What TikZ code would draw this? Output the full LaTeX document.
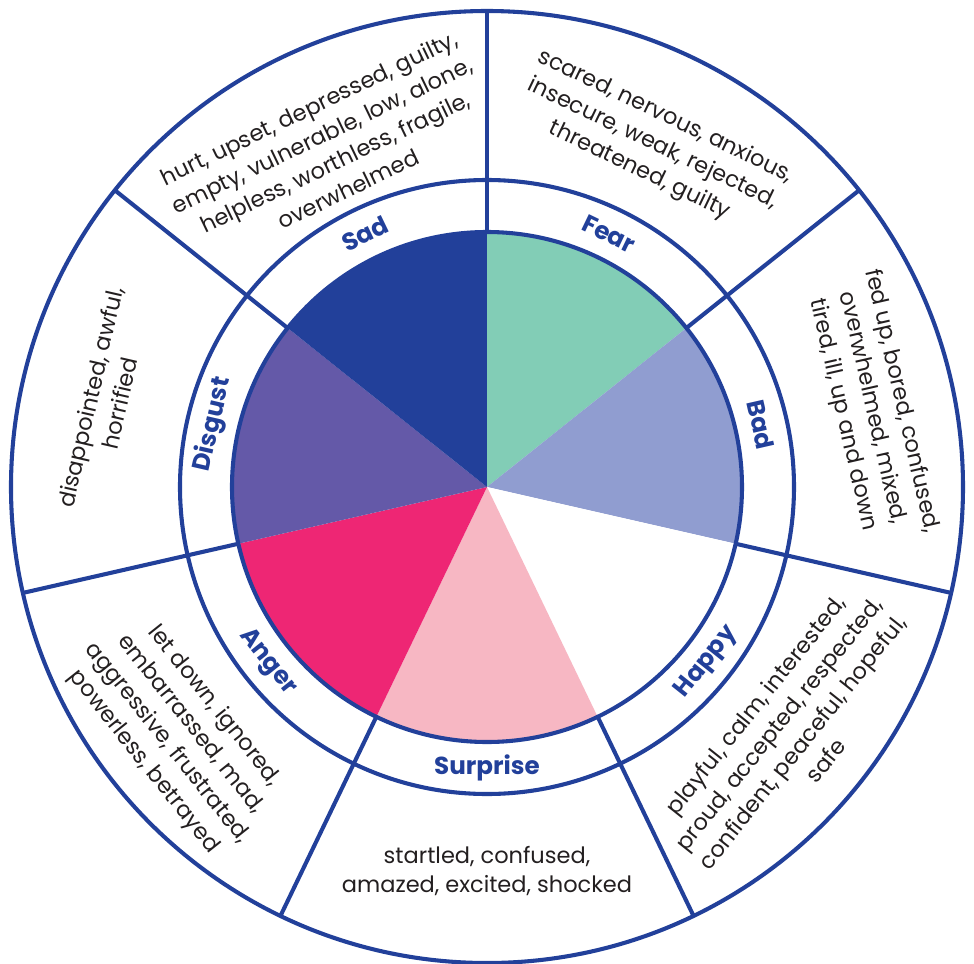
\documentclass[tikz,border=0pt]{standalone}
\usepackage{fontspec}
\setmainfont{Poppins}
\usepackage{xcolor}
\usepackage{tikz}
\usetikzlibrary{calc}
\definecolor{wheelBlue}{HTML}{22409A}
\definecolor{fearGreen}{HTML}{82CDB6}
\definecolor{badLilac}{HTML}{909DD0}
\definecolor{surprisePink}{HTML}{F7B7C3}
\definecolor{angerPink}{HTML}{EE2674}
\definecolor{disgustPurple}{HTML}{6459A8}
\definecolor{textDark}{HTML}{231F20}

\begin{document}
\begin{tikzpicture}[x=0.025cm, y=0.025cm,
        rim/.style={draw=wheelBlue, line width=2.9pt},
        emotion/.style={text=wheelBlue, font=\fontsize{17.5}{20}\selectfont\bfseries, inner sep=0pt},
        feelings/.style={text=textDark, align=center, font=\fontsize{16}{21.3}\selectfont, inner sep=0pt}]
                \useasboundingbox (-487, -476) rectangle (487, 487);
                \foreach \a/\c in {90/fearGreen, 38.571/badLilac, -12.857/white, -64.286/surprisePink,
                                   -115.714/angerPink, -167.143/disgustPurple, 141.429/wheelBlue}
                    \fill[\c] (0, 0) -- (\a:255) arc[start angle=\a, delta angle=-51.429, radius=255] -- cycle;
                \draw[rim] (0, 0) circle[radius=255];
                \draw[rim] (0, 0) circle[radius=307];
                \draw[rim] (0, 0) circle[radius=476];
                \foreach \a in {90, 38.571, -12.857, -64.286, -115.714, -167.143, 141.429}
                    \draw[rim] (\a:255) -- (\a:476);
                \node[emotion, rotate=-25.71] (fear) at (64.29:281) {Fear};
                \node[emotion, rotate=-77.14] (bad) at (12.86:281) {Bad};
                \node[emotion, rotate=51.43] (happy) at (-38.57:281) {Happy};
                \node[emotion] (surprise) at (-90:281) {Surprise};
                \node[emotion, rotate=-51.43] (anger) at (-141.43:281) {Anger};
                \node[emotion, rotate=77.14] (disgust) at (167.14:281) {Disgust};
                \node[emotion, rotate=25.71] (sad) at (115.71:281) {Sad};
                \node[feelings, rotate=-25.71] (fearwords) at (64.29:381) {scared, nervous, anxious,\\ insecure, weak, rejected,\\ threatened, guilty};
                \node[feelings, rotate=-77.14] (badwords) at (11.6:393) {fed up, bored, confused,\\ overwhelmed, mixed,\\ tired, ill, up and down};
                \node[feelings, rotate=51.43] (happywords) at (-39:390) {playful, calm, interested,\\ proud, accepted, respected,\\ confident, peaceful, hopeful,\\ safe};
                \node[feelings] (surprisewords) at (-90:384) {startled, confused,\\ amazed, excited, shocked};
                \node[feelings, rotate=-51.43] (angerwords) at (-141.3:395) {let down, ignored,\\ embarrassed, mad,\\ aggressive, frustrated,\\ powerless, betrayed};
                \node[feelings, rotate=77.14] (disgustwords) at (167.2:392) {disappointed, awful,\\ horrified};
                \node[feelings, rotate=25.71] (sadwords) at (115.1:374) {hurt, upset, depressed, guilty,\\ empty, vulnerable, low, alone,\\ helpless, worthless, fragile,\\ overwhelmed};
            \end{tikzpicture}
\end{document}
